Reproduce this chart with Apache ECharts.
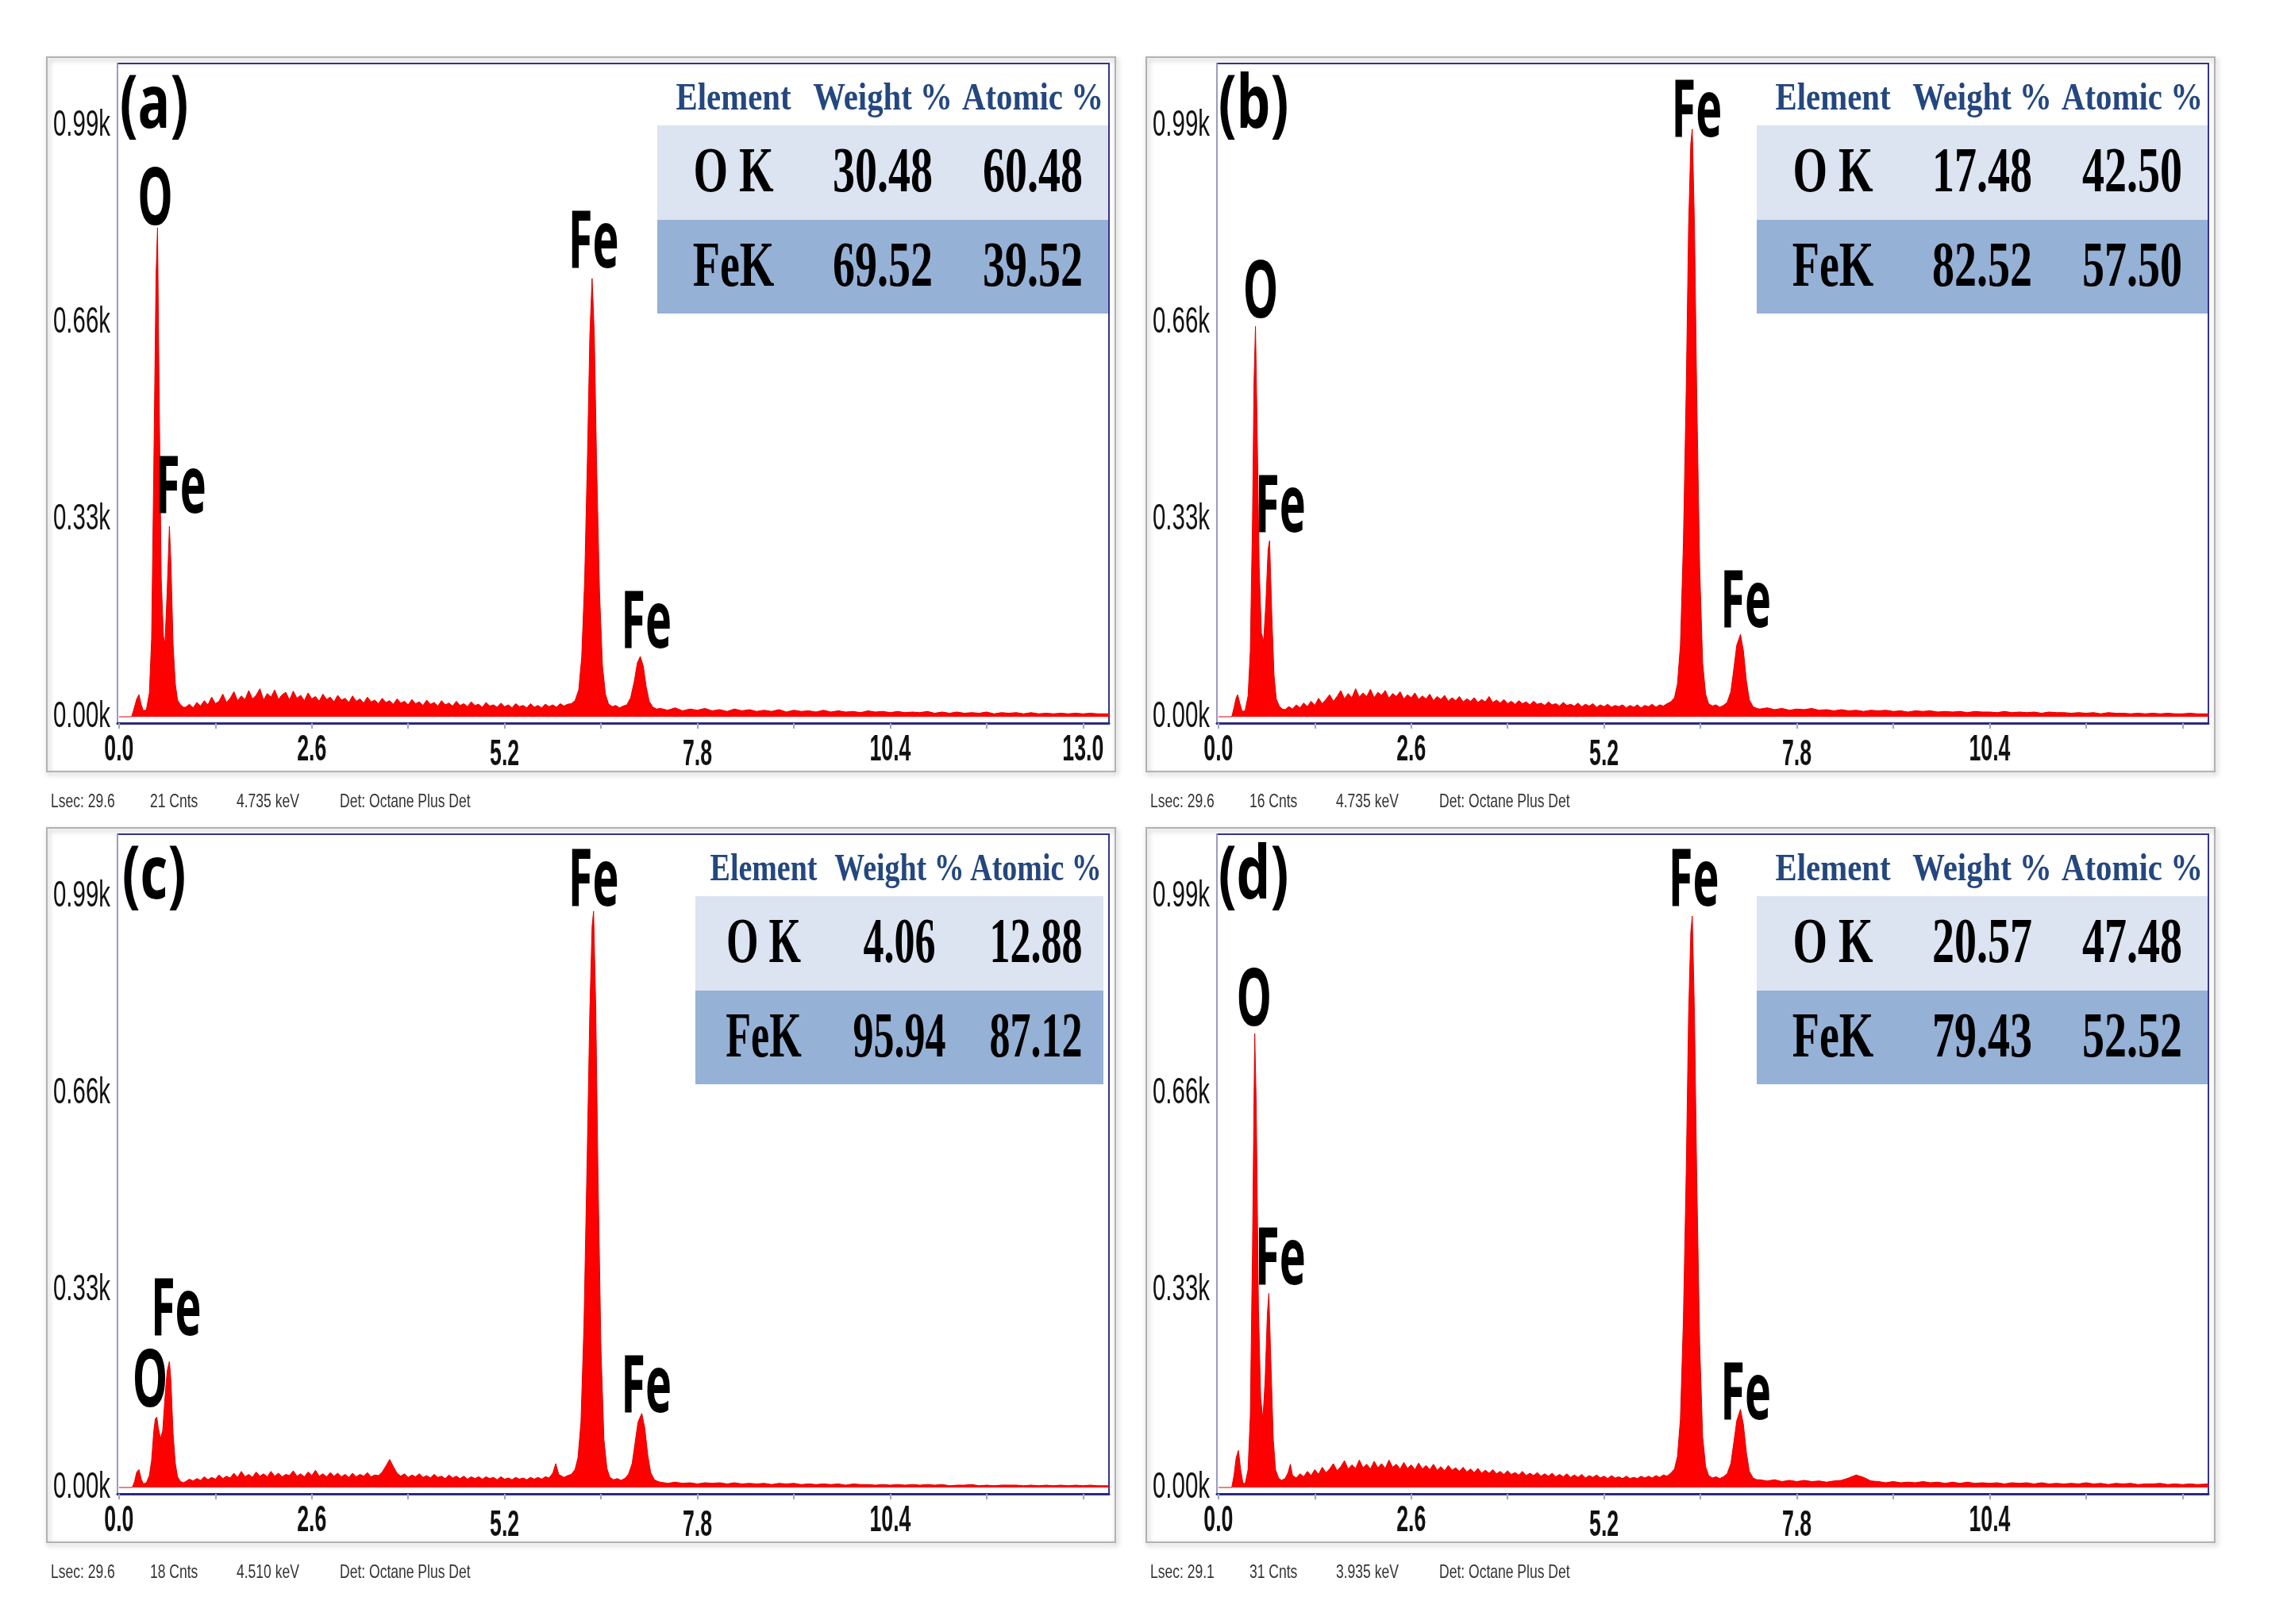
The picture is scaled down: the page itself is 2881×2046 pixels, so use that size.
<!DOCTYPE html>
<html>
<head>
<meta charset="utf-8">
<title>EDS spectra</title>
<script src="https://cdn.jsdelivr.net/npm/echarts@6/dist/echarts.min.js"></script>
<style>
html,body{margin:0;padding:0;background:#fff;}
#main{width:2881px;height:2046px;}
</style>
</head>
<body>
<div id="main"></div>
<script>
// spectra: [keV, counts (k)]
var spectrumA = [[0,0],[0.17,0],[0.20,0.012],[0.24,0.030],[0.27,0.037],[0.30,0.020],[0.33,0.010],[0.37,0.012],[0.41,0.040],[0.44,0.130],[0.47,0.420],[0.50,0.740],[0.52,0.819],[0.54,0.560],[0.57,0.230],[0.60,0.135],[0.62,0.122],[0.65,0.210],[0.68,0.319],[0.70,0.260],[0.73,0.120],[0.76,0.055],[0.79,0.028],[0.83,0.020],[0.87,0.016],
[0.90,0.016],[0.95,0.021],[1.00,0.015],[1.05,0.024],[1.10,0.018],[1.15,0.027],[1.20,0.020],[1.25,0.033],[1.30,0.022],[1.35,0.026],[1.40,0.038],[1.45,0.024],[1.50,0.031],[1.55,0.042],[1.60,0.027],[1.65,0.035],[1.70,0.029],[1.75,0.044],[1.80,0.030],[1.85,0.036],[1.90,0.047],[1.95,0.028],[2.00,0.039],[2.05,0.033],[2.10,0.045],[2.15,0.029],[2.20,0.037],[2.25,0.041],[2.30,0.028],[2.35,0.043],[2.40,0.031],[2.45,0.036],[2.50,0.027],[2.55,0.040],[2.60,0.030],[2.65,0.034],[2.70,0.026],[2.75,0.038],[2.80,0.029],[2.85,0.033],[2.90,0.025],[2.95,0.036],[3.00,0.028],[3.05,0.031],[3.10,0.024],[3.15,0.035],[3.20,0.026],[3.25,0.030],[3.30,0.023],[3.35,0.033],[3.40,0.025],[3.45,0.028],[3.50,0.022],[3.55,0.031],[3.60,0.024],[3.65,0.027],[3.70,0.021],[3.75,0.030],[3.80,0.023],[3.85,0.026],[3.90,0.020],[3.95,0.029],[4.00,0.022],[4.05,0.025],[4.10,0.019],[4.15,0.028],[4.20,0.021],[4.25,0.024],[4.30,0.018],[4.35,0.027],[4.40,0.020],[4.45,0.023],[4.50,0.018],[4.55,0.026],[4.60,0.019],[4.65,0.022],[4.70,0.017],[4.75,0.025],[4.80,0.019],[4.85,0.021],[4.90,0.016],[4.95,0.024],[5.00,0.018],[5.05,0.020],[5.10,0.016],[5.15,0.023],[5.20,0.017],[5.25,0.020],[5.30,0.015],[5.35,0.022],[5.40,0.017],[5.45,0.019],[5.50,0.015],[5.55,0.022],[5.60,0.016],[5.65,0.019],[5.70,0.015],[5.75,0.021],[5.80,0.017],[5.85,0.020],[5.90,0.016],[5.95,0.022],[6.00,0.018],[6.05,0.021],
[6.10,0.022],[6.15,0.027],[6.20,0.045],[6.24,0.100],[6.28,0.230],[6.32,0.450],[6.35,0.640],[6.38,0.734],[6.41,0.640],[6.44,0.430],[6.48,0.210],[6.52,0.085],[6.56,0.038],[6.60,0.022],[6.65,0.017],[6.70,0.019],[6.75,0.015],[6.80,0.018],[6.85,0.020],[6.90,0.032],[6.95,0.060],[6.99,0.090],[7.03,0.101],[7.07,0.085],[7.11,0.050],[7.15,0.026],[7.20,0.016],[7.25,0.013],
[7.30,0.014],[7.40,0.011],[7.50,0.015],[7.60,0.010],[7.70,0.013],[7.80,0.011],[7.90,0.014],[8.00,0.010],[8.10,0.012],[8.20,0.009],[8.30,0.013],[8.40,0.010],[8.50,0.012],[8.60,0.009],[8.70,0.011],[8.80,0.009],[8.90,0.012],[9.00,0.008],[9.10,0.011],[9.20,0.009],[9.30,0.010],[9.40,0.008],[9.50,0.011],[9.60,0.008],[9.70,0.010],[9.80,0.008],[9.90,0.009],[10.00,0.007],[10.10,0.010],[10.20,0.008],[10.30,0.009],[10.40,0.007],[10.50,0.009],[10.60,0.007],[10.70,0.008],[10.80,0.007],[10.90,0.009],[11.00,0.006],[11.10,0.008],[11.20,0.006],[11.30,0.008],[11.40,0.006],[11.50,0.007],[11.60,0.006],[11.70,0.008],[11.80,0.005],[11.90,0.007],[12.00,0.006],[12.10,0.007],[12.20,0.005],[12.30,0.007],[12.40,0.005],[12.50,0.006],[12.60,0.005],[12.70,0.006],[12.80,0.005],[12.90,0.006],[13.00,0.005],[13.10,0.006],[13.20,0.005],[13.35,0.005]];

var spectrumB = [[0,0],[0.18,0],[0.21,0.015],[0.24,0.032],[0.26,0.037],[0.29,0.022],[0.32,0.009],[0.36,0.010],[0.40,0.035],[0.43,0.110],[0.46,0.330],[0.48,0.560],[0.50,0.654],[0.52,0.500],[0.55,0.250],[0.58,0.140],[0.61,0.126],[0.64,0.190],[0.67,0.280],[0.69,0.295],[0.72,0.170],[0.75,0.070],[0.78,0.030],[0.82,0.018],[0.86,0.013],
[0.90,0.012],[0.95,0.017],[1.00,0.013],[1.05,0.020],[1.10,0.015],[1.15,0.023],[1.20,0.017],[1.25,0.026],[1.30,0.019],[1.35,0.031],[1.40,0.022],[1.45,0.029],[1.50,0.037],[1.55,0.026],[1.60,0.034],[1.65,0.044],[1.70,0.030],[1.75,0.039],[1.80,0.032],[1.85,0.047],[1.90,0.033],[1.95,0.040],[2.00,0.034],[2.05,0.046],[2.10,0.032],[2.15,0.041],[2.20,0.036],[2.25,0.044],[2.30,0.031],[2.35,0.039],[2.40,0.034],[2.45,0.042],[2.50,0.030],[2.55,0.037],[2.60,0.032],[2.65,0.040],[2.70,0.029],[2.75,0.035],[2.80,0.030],[2.85,0.038],[2.90,0.027],[2.95,0.034],[3.00,0.029],[3.05,0.036],[3.10,0.026],[3.15,0.032],[3.20,0.027],[3.25,0.034],[3.30,0.025],[3.35,0.030],[3.40,0.026],[3.45,0.032],[3.50,0.024],[3.55,0.029],[3.60,0.025],[3.65,0.034],[3.70,0.024],[3.75,0.028],[3.80,0.023],[3.85,0.029],[3.90,0.022],[3.95,0.026],[4.00,0.021],[4.05,0.027],[4.10,0.022],[4.15,0.025],[4.20,0.020],[4.25,0.026],[4.30,0.021],[4.35,0.023],[4.40,0.019],[4.45,0.025],[4.50,0.020],[4.55,0.022],[4.60,0.018],[4.65,0.024],[4.70,0.019],[4.75,0.021],[4.80,0.018],[4.85,0.023],[4.90,0.017],[4.95,0.021],[5.00,0.018],[5.05,0.022],[5.10,0.016],[5.15,0.020],[5.20,0.017],[5.25,0.021],[5.30,0.016],[5.35,0.019],[5.40,0.017],[5.45,0.020],[5.50,0.015],[5.55,0.019],[5.60,0.016],[5.65,0.020],[5.70,0.015],[5.75,0.019],[5.80,0.017],[5.85,0.021],[5.90,0.016],[5.95,0.020],[6.00,0.018],[6.05,0.022],
[6.10,0.025],[6.15,0.032],[6.19,0.055],[6.23,0.120],[6.27,0.290],[6.31,0.560],[6.34,0.820],[6.37,0.960],[6.39,0.984],[6.42,0.820],[6.45,0.540],[6.49,0.250],[6.53,0.090],[6.57,0.038],[6.61,0.022],[6.66,0.018],[6.71,0.020],[6.76,0.016],[6.81,0.019],[6.86,0.024],[6.91,0.042],[6.95,0.080],[6.99,0.120],[7.04,0.138],[7.08,0.110],[7.12,0.060],[7.16,0.028],[7.21,0.017],[7.26,0.014],
[7.30,0.013],[7.40,0.015],[7.50,0.012],[7.60,0.014],[7.70,0.011],[7.80,0.013],[7.90,0.012],[8.00,0.014],[8.10,0.011],[8.20,0.012],[8.30,0.010],[8.40,0.012],[8.50,0.010],[8.60,0.011],[8.70,0.009],[8.80,0.011],[8.90,0.010],[9.00,0.011],[9.10,0.009],[9.20,0.010],[9.30,0.008],[9.40,0.010],[9.50,0.009],[9.60,0.010],[9.70,0.008],[9.80,0.009],[9.90,0.008],[10.00,0.009],[10.10,0.007],[10.20,0.009],[10.30,0.008],[10.40,0.008],[10.50,0.007],[10.60,0.009],[10.70,0.007],[10.80,0.008],[10.90,0.007],[11.00,0.008],[11.10,0.006],[11.20,0.008],[11.30,0.007],[11.40,0.007],[11.50,0.006],[11.60,0.007],[11.70,0.006],[11.80,0.007],[11.90,0.005],[12.00,0.007],[12.10,0.006],[12.20,0.006],[12.30,0.005],[12.40,0.006],[12.50,0.005],[12.60,0.006],[12.70,0.005],[12.80,0.006],[12.90,0.005],[13.00,0.005],[13.10,0.006],[13.20,0.005],[13.35,0.005]];

var spectrumC = [[0,0],[0.18,0],[0.21,0.010],[0.24,0.026],[0.27,0.030],[0.30,0.014],[0.33,0.006],[0.37,0.008],[0.41,0.020],[0.44,0.045],[0.47,0.095],[0.49,0.115],[0.51,0.118],[0.53,0.100],[0.56,0.082],[0.59,0.095],[0.62,0.150],[0.65,0.195],[0.68,0.211],[0.70,0.180],[0.73,0.090],[0.76,0.040],[0.79,0.018],[0.83,0.010],[0.87,0.008],
[0.90,0.010],[0.95,0.014],[1.00,0.011],[1.05,0.015],[1.10,0.012],[1.15,0.018],[1.20,0.013],[1.25,0.017],[1.30,0.014],[1.35,0.021],[1.40,0.015],[1.45,0.019],[1.50,0.016],[1.55,0.024],[1.60,0.017],[1.65,0.027],[1.70,0.018],[1.75,0.022],[1.80,0.017],[1.85,0.026],[1.90,0.019],[1.95,0.023],[2.00,0.018],[2.05,0.027],[2.10,0.019],[2.15,0.024],[2.20,0.018],[2.25,0.022],[2.30,0.020],[2.35,0.028],[2.40,0.019],[2.45,0.023],[2.50,0.018],[2.55,0.026],[2.60,0.020],[2.65,0.029],[2.70,0.019],[2.75,0.023],[2.80,0.018],[2.85,0.025],[2.90,0.019],[2.95,0.024],[3.00,0.018],[3.05,0.022],[3.10,0.017],[3.15,0.024],[3.20,0.018],[3.25,0.022],[3.30,0.019],[3.35,0.025],[3.40,0.018],[3.45,0.021],[3.50,0.020],[3.55,0.026],[3.60,0.036],[3.65,0.047],[3.70,0.035],[3.75,0.024],[3.80,0.019],[3.85,0.023],[3.90,0.017],[3.95,0.021],[4.00,0.018],[4.05,0.023],[4.10,0.017],[4.15,0.020],[4.20,0.016],[4.25,0.022],[4.30,0.017],[4.35,0.019],[4.40,0.015],[4.45,0.021],[4.50,0.016],[4.55,0.019],[4.60,0.015],[4.65,0.019],[4.70,0.014],[4.75,0.018],[4.80,0.015],[4.85,0.018],[4.90,0.014],[4.95,0.018],[5.00,0.015],[5.05,0.017],[5.10,0.013],[5.15,0.018],[5.20,0.014],[5.25,0.016],[5.30,0.013],[5.35,0.017],[5.40,0.014],[5.45,0.016],[5.50,0.013],[5.55,0.017],[5.60,0.014],[5.65,0.017],[5.70,0.014],[5.75,0.018],[5.80,0.016],[5.85,0.024],[5.89,0.040],[5.93,0.022],[6.00,0.017],[6.05,0.020],
[6.10,0.022],[6.15,0.030],[6.19,0.050],[6.23,0.110],[6.27,0.270],[6.31,0.530],[6.35,0.800],[6.38,0.940],[6.40,0.965],[6.43,0.800],[6.46,0.520],[6.50,0.230],[6.54,0.080],[6.58,0.032],[6.62,0.017],[6.67,0.013],[6.72,0.015],[6.77,0.012],[6.82,0.015],[6.87,0.022],[6.92,0.040],[6.96,0.075],[7.00,0.110],[7.05,0.124],[7.09,0.100],[7.13,0.055],[7.17,0.025],[7.22,0.013],[7.27,0.010],
[7.30,0.009],[7.40,0.007],[7.50,0.009],[7.60,0.007],[7.70,0.008],[7.80,0.006],[7.90,0.008],[8.00,0.007],[8.10,0.008],[8.20,0.006],[8.30,0.008],[8.40,0.006],[8.50,0.007],[8.60,0.006],[8.70,0.007],[8.80,0.005],[8.90,0.007],[9.00,0.006],[9.10,0.007],[9.20,0.005],[9.30,0.006],[9.40,0.005],[9.50,0.006],[9.60,0.005],[9.70,0.006],[9.80,0.004],[9.90,0.006],[10.00,0.005],[10.10,0.005],[10.20,0.004],[10.30,0.005],[10.40,0.004],[10.50,0.005],[10.60,0.004],[10.70,0.005],[10.80,0.004],[10.90,0.005],[11.00,0.004],[11.10,0.005],[11.20,0.003],[11.30,0.004],[11.40,0.004],[11.50,0.005],[11.60,0.003],[11.70,0.004],[11.80,0.003],[11.90,0.004],[12.00,0.004],[12.10,0.004],[12.20,0.003],[12.30,0.004],[12.40,0.003],[12.50,0.004],[12.60,0.003],[12.70,0.004],[12.80,0.003],[12.90,0.004],[13.00,0.003],[13.10,0.004],[13.20,0.003],[13.35,0.003]];

var spectrumD = [[0,0],[0.18,0],[0.21,0.020],[0.24,0.050],[0.27,0.062],[0.30,0.030],[0.33,0.008],[0.36,0.006],[0.40,0.030],[0.43,0.120],[0.46,0.400],[0.48,0.650],[0.49,0.760],[0.51,0.640],[0.54,0.300],[0.57,0.150],[0.60,0.114],[0.63,0.180],[0.66,0.290],[0.68,0.325],[0.71,0.200],[0.74,0.080],[0.77,0.030],[0.81,0.016],[0.85,0.012],
[0.90,0.015],[0.94,0.025],[0.97,0.039],[1.00,0.020],[1.05,0.016],[1.10,0.023],[1.15,0.018],[1.20,0.027],[1.25,0.020],[1.30,0.030],[1.35,0.022],[1.40,0.034],[1.45,0.025],[1.50,0.031],[1.55,0.040],[1.60,0.028],[1.65,0.035],[1.70,0.045],[1.75,0.031],[1.80,0.038],[1.85,0.032],[1.90,0.046],[1.95,0.033],[2.00,0.039],[2.05,0.031],[2.10,0.044],[2.15,0.033],[2.20,0.040],[2.25,0.032],[2.30,0.046],[2.35,0.034],[2.40,0.039],[2.45,0.031],[2.50,0.042],[2.55,0.032],[2.60,0.038],[2.65,0.030],[2.70,0.041],[2.75,0.031],[2.80,0.037],[2.85,0.030],[2.90,0.039],[2.95,0.029],[3.00,0.035],[3.05,0.028],[3.10,0.037],[3.15,0.029],[3.20,0.033],[3.25,0.027],[3.30,0.034],[3.35,0.026],[3.40,0.031],[3.45,0.025],[3.50,0.032],[3.55,0.024],[3.60,0.029],[3.65,0.024],[3.70,0.030],[3.75,0.023],[3.80,0.027],[3.85,0.022],[3.90,0.028],[3.95,0.022],[4.00,0.025],[4.05,0.021],[4.10,0.027],[4.15,0.020],[4.20,0.024],[4.25,0.020],[4.30,0.025],[4.35,0.019],[4.40,0.023],[4.45,0.019],[4.50,0.024],[4.55,0.018],[4.60,0.022],[4.65,0.018],[4.70,0.023],[4.75,0.017],[4.80,0.021],[4.85,0.017],[4.90,0.022],[4.95,0.016],[5.00,0.020],[5.05,0.017],[5.10,0.021],[5.15,0.016],[5.20,0.019],[5.25,0.015],[5.30,0.020],[5.35,0.016],[5.40,0.018],[5.45,0.015],[5.50,0.019],[5.55,0.015],[5.60,0.017],[5.65,0.015],[5.70,0.019],[5.75,0.016],[5.80,0.019],[5.85,0.016],[5.90,0.020],[5.95,0.017],[6.00,0.021],[6.05,0.019],
[6.10,0.024],[6.15,0.031],[6.19,0.052],[6.23,0.115],[6.27,0.280],[6.31,0.540],[6.34,0.790],[6.37,0.930],[6.39,0.957],[6.42,0.790],[6.45,0.520],[6.49,0.240],[6.53,0.085],[6.57,0.035],[6.61,0.020],[6.66,0.016],[6.71,0.018],[6.76,0.015],[6.81,0.018],[6.86,0.023],[6.91,0.040],[6.95,0.075],[6.99,0.112],[7.04,0.131],[7.08,0.105],[7.12,0.058],[7.16,0.027],[7.21,0.016],[7.26,0.013],
[7.30,0.013],[7.40,0.011],[7.50,0.013],[7.60,0.010],[7.70,0.012],[7.80,0.010],[7.90,0.012],[8.00,0.010],[8.10,0.011],[8.20,0.009],[8.30,0.011],[8.40,0.012],[8.50,0.016],[8.60,0.021],[8.70,0.017],[8.80,0.011],[8.90,0.010],[9.00,0.008],[9.10,0.010],[9.20,0.008],[9.30,0.009],[9.40,0.008],[9.50,0.010],[9.60,0.008],[9.70,0.009],[9.80,0.007],[9.90,0.009],[10.00,0.007],[10.10,0.009],[10.20,0.007],[10.30,0.008],[10.40,0.007],[10.50,0.008],[10.60,0.006],[10.70,0.008],[10.80,0.007],[10.90,0.008],[11.00,0.006],[11.10,0.008],[11.20,0.006],[11.30,0.007],[11.40,0.006],[11.50,0.007],[11.60,0.006],[11.70,0.008],[11.80,0.006],[11.90,0.007],[12.00,0.005],[12.10,0.007],[12.20,0.006],[12.30,0.007],[12.40,0.005],[12.50,0.006],[12.60,0.006],[12.70,0.007],[12.80,0.005],[12.90,0.006],[13.00,0.005],[13.10,0.006],[13.20,0.005],[13.35,0.006]];

var panelNames = ['(a)', '(b)', '(c)', '(d)'];
var yTicks = [0, 0.33, 0.66, 0.99];
var xTicksFull = [0, 2.6, 5.2, 7.8, 10.4, 13.0];
var xTicksShort = [0, 2.6, 5.2, 7.8, 10.4];
var xMinorTicks = [0, 1.3, 2.6, 3.9, 5.2, 6.5, 7.8, 9.1, 10.4, 11.7, 13.0];

var tableHead = ['Element', 'Weight %', 'Atomic %'];
var elements = ['O K', 'FeK'];
var weightA = ['30.48', '69.52'], atomicA = ['60.48', '39.52'];
var weightB = ['17.48', '82.52'], atomicB = ['42.50', '57.50'];
var weightC = ['4.06', '95.94'], atomicC = ['12.88', '87.12'];
var weightD = ['20.57', '79.43'], atomicD = ['47.48', '52.52'];

// peak labels: [text, keV, counts(k)] at label centre
var peaksA = [['O', 0.49, 0.862], ['Fe', 0.835, 0.379], ['Fe', 6.40, 0.79], ['Fe', 7.11, 0.154]];
var peaksB = [['O', 0.57, 0.706], ['Fe', 0.835, 0.347], ['Fe', 6.45, 1.01], ['Fe', 7.11, 0.188]];
var peaksC = [['O', 0.42, 0.173], ['Fe', 0.77, 0.293], ['Fe', 6.40, 1.012], ['Fe', 7.11, 0.164]];
var peaksD = [['O', 0.48, 0.812], ['Fe', 0.835, 0.378], ['Fe', 6.41, 1.012], ['Fe', 7.11, 0.152]];

var lsec = ['29.6', '29.6', '29.6', '29.1'];
var cnts = ['21', '16', '18', '31'];
var kev = ['4.735', '4.735', '4.510', '3.935'];

var spectra = [spectrumA, spectrumB, spectrumC, spectrumD];
var weights = [weightA, weightB, weightC, weightD];
var atomics = [atomicA, atomicB, atomicC, atomicD];
var peaks = [peaksA, peaksB, peaksC, peaksD];

var dx = [0, 1385, 0, 1385], dy = [0, 0, 971, 971];

var myChart = echarts.init(document.getElementById('main'));
var grids = [], xAxes = [], yAxes = [], series = [];
for (var i = 0; i < 4; i++) {
    grids.push({left: 148 + dx[i], top: 80 + dy[i], width: 1249, height: 831,
        show: true, borderColor: '#34348c', borderWidth: 2});
    xAxes.push({
        type: 'value', gridIndex: i, min: -0.02, max: 13.35,
        splitLine: {show: false},
        axisLine: {show: true, onZero: false, lineStyle: {color: '#2a2a80', width: 3}},
        axisTick: {show: true, customValues: xMinorTicks, length: 7, lineStyle: {color: '#a4a4cc', width: 2}},
        axisLabel: {show: false}
    });
    yAxes.push({
        type: 'value', gridIndex: i, min: -0.0106, max: 1.094,
        splitLine: {show: false},
        axisLine: {show: true, onZero: false, lineStyle: {color: '#9a9ac6', width: 2}},
        axisTick: {show: false},
        axisLabel: {show: false}
    });
    series.push({
        type: 'line', xAxisIndex: i, yAxisIndex: i, data: spectra[i],
        showSymbol: false, symbol: 'none', silent: true,
        lineStyle: {color: '#e00000', width: 1},
        areaStyle: {color: '#ff0000', opacity: 1}
    });
}

myChart.setOption({
    animation: false,
    backgroundColor: '#fff',
    grid: grids,
    xAxis: xAxes,
    yAxis: yAxes,
    series: series
});

// squeezed text, like the instrument's export
function txt(x, y, s, font, fill, sx, align) {
    return {
        type: 'text', x: x, y: y, scaleX: sx, z: 100, silent: true,
        style: {text: s, x: 0, y: 0, font: font, fill: fill,
            textAlign: align || 'center', textVerticalAlign: 'middle',
            align: align || 'center', verticalAlign: 'middle'}
    };
}

var g = [];
for (var i = 0; i < 4; i++) {
    var ox = dx[i], oy = dy[i];
    // panel frame
    g.push({type: 'rect', z: -1, silent: true,
        shape: {x: 59 + ox, y: 72 + oy, width: 1346, height: 900},
        style: {fill: 'none', stroke: '#b2b2b2', lineWidth: 2,
            shadowBlur: 6, shadowOffsetX: 2, shadowOffsetY: 3, shadowColor: 'rgba(0,0,0,0.3)'}});

    // tick labels, placed through the axes
    var xl = i == 0 ? xTicksFull : xTicksShort;
    for (var k = 0; k < xl.length; k++) {
        var px = myChart.convertToPixel({gridIndex: i}, [xl[k], 0]);
        var ly = 911 + oy + ((xl[k] === 5.2 || xl[k] === 7.8) ? 40 : 34);
        g.push(txt(px[0], ly, xl[k].toFixed(1), 'bold 46px "Liberation Sans"', '#111', 0.58));
    }
    for (var k = 0; k < yTicks.length; k++) {
        var py = myChart.convertToPixel({gridIndex: i}, [0, yTicks[k]]);
        g.push(txt(139 + ox, py[1], yTicks[k].toFixed(2) + 'k', '46px "Liberation Sans"', '#111', 0.64, 'right'));
    }

    // table
    var narrow = (i == 2);
    var bx = narrow ? 876 : 828, bw = narrow ? 514 : 568;
    var cols = narrow ? [962, 1133, 1305] : [924, 1112, 1301];
    var hs = narrow ? 0.79 : 0.85, vs = narrow ? 0.65 : 0.70;
    g.push({type: 'rect', z: 90, silent: true, shape: {x: bx + ox, y: 158 + oy, width: bw, height: 119}, style: {fill: '#dbe4f0'}});
    g.push({type: 'rect', z: 90, silent: true, shape: {x: bx + ox, y: 277 + oy, width: bw, height: 118}, style: {fill: '#95b1d6'}});
    for (var c = 0; c < 3; c++) {
        g.push(txt(cols[c] + ox, 126 + oy, tableHead[c], 'bold 48px "Liberation Serif"', '#24477f', hs));
    }
    for (var r = 0; r < 2; r++) {
        var cy = (r == 0 ? 220 : 339) + oy;
        g.push(txt(cols[0] + ox, cy, elements[r], 'bold 80px "Liberation Serif"', '#000', vs));
        g.push(txt(cols[1] + ox, cy, weights[i][r], 'bold 80px "Liberation Serif"', '#000', vs));
        g.push(txt(cols[2] + ox, cy, atomics[i][r], 'bold 80px "Liberation Serif"', '#000', vs));
    }

    // panel letter
    g.push(txt(194 + ox, 134 + oy, panelNames[i], 'bold 94px "Open Sans"', '#000', 0.72));

    // peak labels
    for (var k = 0; k < peaks[i].length; k++) {
        var p = myChart.convertToPixel({gridIndex: i}, [peaks[i][k][1], peaks[i][k][2]]);
        g.push(txt(p[0], p[1], peaks[i][k][0], 'bold 100px "Open Sans"', '#000', 0.56));
    }

    // footer
    var fy = 1010 + oy, ff = '24px "Liberation Sans"';
    g.push(txt(64 + ox, fy, 'Lsec: ' + lsec[i], ff, '#333', 0.73, 'left'));
    g.push(txt(189 + ox, fy, cnts[i] + ' Cnts', ff, '#333', 0.73, 'left'));
    g.push(txt(298 + ox, fy, kev[i] + ' keV', ff, '#333', 0.73, 'left'));
    g.push(txt(428 + ox, fy, 'Det: Octane Plus Det', ff, '#333', 0.73, 'left'));
}
myChart.setOption({graphic: g});
</script>
</body>
</html>
